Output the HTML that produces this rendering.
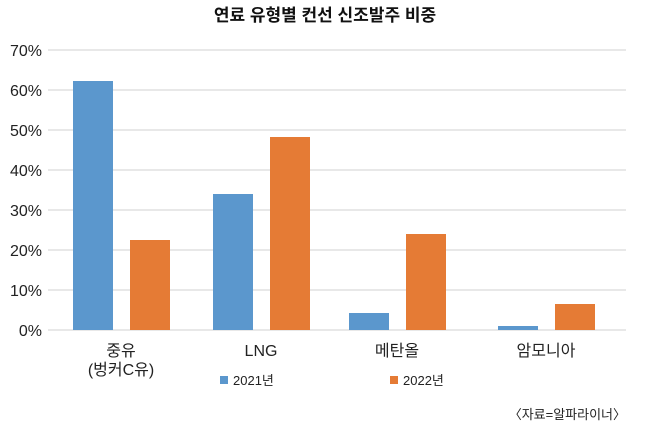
<!DOCTYPE html>
<html><head><meta charset="utf-8"><style>
body{margin:0;background:#fff}
text{font-family:"Liberation Sans","Noto Sans CJK KR",sans-serif}
</style></head><body>
<svg width="650" height="438" xmlns="http://www.w3.org/2000/svg">
<text x="325" y="21" text-anchor="middle" font-size="17" font-weight="bold" fill="#111">연료 유형별 컨선 신조발주 비중</text>
<g stroke="#d9d9d9" stroke-width="1.2">
<line x1="48" y1="50" x2="626" y2="50"/><line x1="48" y1="90" x2="626" y2="90"/>
<line x1="48" y1="130" x2="626" y2="130"/><line x1="48" y1="170" x2="626" y2="170"/>
<line x1="48" y1="210" x2="626" y2="210"/><line x1="48" y1="250" x2="626" y2="250"/>
<line x1="48" y1="290" x2="626" y2="290"/><line x1="48" y1="330" x2="626" y2="330"/>
</g>
<g font-size="16" fill="#222" text-anchor="end">
<text x="42" y="56">70%</text><text x="42" y="96">60%</text><text x="42" y="136">50%</text>
<text x="42" y="176">40%</text><text x="42" y="216">30%</text><text x="42" y="256">20%</text>
<text x="42" y="296">10%</text><text x="42" y="336">0%</text>
</g>
<g fill="#5b97cd">
<rect x="73" y="81" width="40" height="249"/><rect x="213" y="194" width="40" height="136"/>
<rect x="349" y="313" width="40" height="17"/><rect x="498" y="326" width="40" height="4"/>
</g>
<g fill="#e57b35">
<rect x="130" y="240" width="40" height="90"/><rect x="270" y="137" width="40" height="193"/>
<rect x="406" y="234" width="40" height="96"/><rect x="555" y="304" width="40" height="26"/>
</g>
<g font-size="16" fill="#222" text-anchor="middle">
<text x="121" y="356">중유</text><text x="121" y="375">(벙커C유)</text>
<text x="261" y="356">LNG</text><text x="397" y="356">메탄올</text><text x="546" y="356">암모니아</text>
</g>
<rect x="220" y="376" width="8" height="8" fill="#5b97cd"/>
<text x="233" y="385" font-size="13" fill="#222">2021년</text>
<rect x="390" y="376" width="8" height="8" fill="#e57b35"/>
<text x="403" y="385" font-size="13" fill="#222">2022년</text>
<text x="626" y="419" font-size="13" fill="#222" text-anchor="end">〈자료=알파라이너〉</text>
</svg>
</body></html>
